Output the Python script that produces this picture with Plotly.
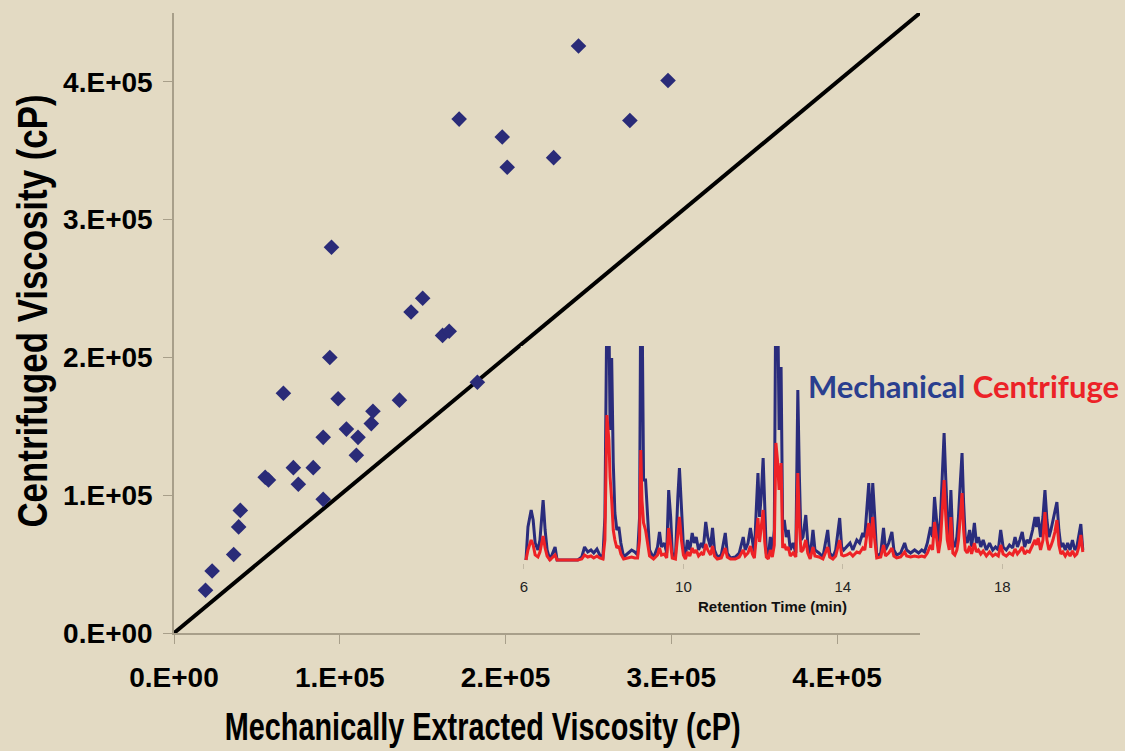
import plotly.graph_objects as go

# ---------------- main scatter data (cP) ----------------
mech_visc = [19000, 23000, 36000, 39000, 40000, 55000, 57000, 66000, 72000, 75000,
             84000, 90000, 90000, 94000, 95000, 99000, 104000, 110000, 111000, 119000,
             120000, 136000, 143000, 150000, 162000, 166000, 172000, 183000, 198000, 201000,
             229000, 244000, 275000, 298000]
cent_visc = [31000, 45000, 57000, 77000, 89000, 113000, 111000, 174000, 120000, 108000,
             120000, 142000, 97000, 200000, 280000, 170000, 148000, 129000, 142000, 152000,
             161000, 169000, 233000, 243000, 216000, 219000, 373000, 182000, 360000, 338000,
             345000, 426000, 372000, 401000]
identity_x = [0, 450000]
identity_y = [0, 450000]
tick_vals = [0, 100000, 200000, 300000, 400000]
tick_text = ["0.E+00", "1.E+05", "2.E+05", "3.E+05", "4.E+05"]

# ---------------- inset chromatogram ----------------
ret_time = [6.05, 6.10, 6.18, 6.23, 6.28, 6.35, 6.40, 6.48, 6.53, 6.58, 6.65, 6.78, 6.83, 7.35,
            7.45, 7.52, 7.60, 7.68, 7.75, 7.83, 7.90, 7.98, 8.03, 8.08, 8.13, 8.16, 8.20, 8.24,
            8.28, 8.33, 8.38, 8.43, 8.50, 8.60, 8.70, 8.78, 8.85, 8.90, 8.93, 8.96, 9.00, 9.05,
            9.10, 9.15, 9.25, 9.35, 9.40, 9.45, 9.52, 9.58, 9.63, 9.68, 9.72, 9.80, 9.86, 9.90,
            9.95, 10.00, 10.05, 10.10, 10.16, 10.22, 10.27, 10.32, 10.38, 10.45, 10.50, 10.56,
            10.61, 10.68, 10.73, 10.78, 10.85, 10.95, 11.05, 11.10, 11.18, 11.30, 11.40, 11.50,
            11.55, 11.62, 11.68, 11.73, 11.78, 11.83, 11.87, 11.91, 11.95, 12.00, 12.04, 12.08,
            12.13, 12.18, 12.23, 12.28, 12.32, 12.36, 12.40, 12.45, 12.49, 12.53, 12.58, 12.63,
            12.68, 12.75, 12.82, 12.87, 12.91, 12.95, 13.00, 13.07, 13.12, 13.18, 13.25, 13.30,
            13.40, 13.50, 13.62, 13.67, 13.75, 13.82, 13.92, 13.97, 14.02, 14.10, 14.18, 14.25,
            14.35, 14.42, 14.50, 14.55, 14.60, 14.65, 14.70, 14.75, 14.80, 14.85, 14.95, 15.02,
            15.07, 15.15, 15.23, 15.28, 15.35, 15.45, 15.55, 15.60, 15.70, 15.80, 15.90, 15.98,
            16.05, 16.12, 16.20, 16.25, 16.30, 16.35, 16.40, 16.45, 16.50, 16.54, 16.58, 16.62,
            16.67, 16.71, 16.76, 16.81, 16.86, 16.90, 16.95, 16.99, 17.03, 17.07, 17.12, 17.18,
            17.23, 17.30, 17.35, 17.40, 17.46, 17.52, 17.60, 17.68, 17.76, 17.83, 17.90, 17.96,
            18.02, 18.10, 18.18, 18.26, 18.32, 18.38, 18.44, 18.50, 18.56, 18.62, 18.68, 18.76,
            18.82, 18.86, 18.90, 18.96, 19.02, 19.07, 19.12, 19.17, 19.22, 19.27, 19.32, 19.37,
            19.42, 19.47, 19.52, 19.58, 19.64, 19.70, 19.76, 19.82, 19.87, 19.92, 19.97, 20.02]
mechanical_signal = [0, 33, 50, 40, 17, 10, 20, 60, 30, 10, 0, 13, 0, 0,
                     3, 13, 8, 10, 7, 11, 5, 3, 43, 260, 250, 130, 202, 97,
                     47, 30, 33, 17, 3, 7, 10, 8, 5, 43, 280, 270, 80, 80,
                     37, 10, 2, 13, 28, 13, 17, 7, 70, 43, 7, 3, 63, 92,
                     53, 13, 3, 20, 10, 27, 17, 23, 10, 17, 12, 38,
                     23, 13, 32, 10, 3, 5, 27, 7, 2, 3, 7, 23,
                     10, 17, 32, 17, 7, 53, 87, 43, 63, 102, 43, 7,
                     3, 23, 7, 30, 290, 280, 130, 193, 30, 40, 23, 30,
                     10, 17, 7, 170, 83, 20, 23, 45, 17, 3, 30, 10,
                     7, 3, 30, 7, 3, 10, 42, 13, 10, 13, 17, 10,
                     20, 17, 27, 23, 53, 77, 30, 77, 43, 3, 7, 32,
                     10, 17, 28, 10, 5, 7, 17, 10, 7, 10, 7, 10,
                     8, 17, 33, 23, 63, 43, 17, 43, 97, 127, 83, 43,
                     23, 70, 17, 13, 23, 43, 80, 107, 57, 23, 17, 30,
                     13, 37, 17, 23, 13, 20, 10, 17, 10, 13, 10, 30,
                     13, 10, 15, 12, 23, 13, 20, 28, 13, 20, 17, 30,
                     43, 33, 43, 23, 43, 70, 40, 23, 30, 40, 50, 58,
                     30, 13, 17, 10, 17, 10, 20, 10, 13, 27, 36, 10]
centrifuge_signal = [0, 10, 20, 15, 5, 3, 8, 24, 12, 4, 0, 5, 0, 0,
                     1, 5, 3, 4, 2, 4, 2, 1, 20, 145, 120, 83, 60, 30,
                     20, 12, 14, 6, 1, 2, 3, 2, 2, 20, 110, 60, 37, 30,
                     15, 4, 1, 5, 12, 5, 6, 2, 32, 15, 2, 1, 25, 43,
                     20, 5, 1, 8, 4, 12, 7, 10, 4, 7, 5, 16,
                     10, 5, 14, 4, 1, 2, 12, 3, 1, 1, 3, 10,
                     4, 7, 14, 6, 2, 25, 42, 18, 30, 50, 18, 3,
                     1, 10, 3, 15, 117, 100, 70, 97, 12, 16, 10, 13,
                     4, 7, 3, 87, 35, 8, 10, 20, 7, 1, 13, 4,
                     3, 1, 13, 3, 1, 4, 20, 5, 4, 5, 7, 4,
                     8, 7, 12, 10, 25, 37, 12, 43, 20, 2, 3, 15,
                     4, 7, 12, 4, 2, 3, 8, 4, 3, 4, 3, 4,
                     3, 7, 15, 10, 38, 20, 7, 20, 50, 80, 45, 20,
                     10, 43, 7, 5, 10, 20, 45, 67, 30, 10, 7, 14,
                     6, 17, 8, 10, 6, 9, 4, 8, 4, 6, 4, 15,
                     6, 4, 7, 5, 11, 6, 9, 13, 6, 9, 8, 14,
                     20, 15, 22, 10, 20, 48, 20, 10, 14, 20, 28, 40,
                     15, 6, 8, 4, 8, 4, 9, 4, 6, 13, 25, 8]
inset_tick_vals = [6, 10, 14, 18]
inset_tick_text = ["6", "10", "14", "18"]

W, H = 1125, 751
BG = "#E3DAC3"
AXIS = "#A89F8A"


def px_x(p):
    return p / W


def px_y(p):
    return 1 - p / H


fig = go.Figure()

fig.add_trace(go.Scatter(x=identity_x, y=identity_y, mode="lines",
                         line=dict(color="black", width=4), cliponaxis=False,
                         hoverinfo="skip", showlegend=False))
fig.add_trace(go.Scatter(x=mech_visc, y=cent_visc, mode="markers",
                         marker=dict(symbol="diamond", size=12, color="#2A2B78",
                                     line=dict(width=0)),
                         showlegend=False))
fig.add_trace(go.Scatter(x=ret_time, y=mechanical_signal, mode="lines",
                         line=dict(color="#2A2C7C", width=3),
                         xaxis="x2", yaxis="y2", showlegend=False))
fig.add_trace(go.Scatter(x=ret_time, y=centrifuge_signal, mode="lines",
                         line=dict(color="#EE2226", width=3),
                         xaxis="x2", yaxis="y2", showlegend=False))

bold28 = dict(size=28, family="Liberation Sans, Arial", weight="bold", color="black")

fig.update_layout(
    width=W, height=H,
    margin=dict(l=0, r=0, t=0, b=0, autoexpand=False),
    paper_bgcolor=BG, plot_bgcolor=BG,
    font=dict(family="Liberation Sans, Arial, sans-serif", color="black"),
    xaxis=dict(domain=[px_x(174), px_x(920)], range=[0, 450000], automargin=False,
               showgrid=False, zeroline=False, showline=True, linecolor=AXIS, linewidth=1.5,
               ticks="outside", ticklen=9, tickcolor=AXIS, tickwidth=1.3,
               tickvals=tick_vals, ticktext=tick_text, ticklabelstandoff=10,
               tickfont=bold28),
    yaxis=dict(domain=[px_y(633), px_y(13)], range=[0, 450000], automargin=False,
               showgrid=False, zeroline=False, showline=True, linecolor=AXIS, linewidth=1.5,
               ticks="outside", ticklen=9, tickcolor=AXIS, tickwidth=1.3,
               tickvals=tick_vals, ticktext=tick_text, ticklabelstandoff=5,
               tickfont=bold28),
    xaxis2=dict(domain=[px_x(520.8), px_x(1086)], range=[5.92, 20.1], anchor="y2",
                automargin=False,
                showgrid=False, zeroline=False, showline=False,
                ticks="outside", ticklen=5, tickcolor="#C2B9A4", tickwidth=1,
                tickvals=inset_tick_vals, ticktext=inset_tick_text, ticklabelstandoff=5,
                tickfont=dict(size=15, color="#222222")),
    yaxis2=dict(domain=[px_y(563), px_y(346)], range=[-3, 214], anchor="x2",
                automargin=False,
                showgrid=False, zeroline=False, showline=False, showticklabels=False,
                ticks=""),
)

title_font = dict(family="Liberation Sans, Arial", weight="bold", color="black")
fig.add_annotation(text="Mechanically Extracted Viscosity (cP)", x=px_x(482), y=px_y(726),
                   xref="paper", yref="paper", showarrow=False, xanchor="center", yanchor="middle",
                   font=dict(size=39, **title_font))
fig.add_annotation(text="Centrifuged Viscosity (cP)", x=px_x(32), y=px_y(311),
                   xref="paper", yref="paper", showarrow=False, textangle=-90,
                   xanchor="center", yanchor="middle",
                   font=dict(size=42, **title_font))
fig.add_annotation(text="Retention Time (min)", x=px_x(772), y=px_y(606),
                   xref="paper", yref="paper", showarrow=False, xanchor="center", yanchor="middle",
                   font=dict(size=15, family="Liberation Sans, Arial", weight="bold", color="#111111"))
fig.add_annotation(text="<span style='color:#2A3F8F'>Mechanical</span> "
                        "<span style='color:#EC2227'>Centrifuge</span>",
                   x=px_x(1121), y=px_y(386), xref="paper", yref="paper", showarrow=False,
                   xanchor="right", yanchor="middle",
                   font=dict(size=31, family="Lato, Liberation Sans", weight="bold"))

# condensed (Arial Narrow-like) look for the two axis titles, plus no page margin
post = """
document.body.style.margin = '0px';
var gd = document.getElementById('{plot_id}');
gd.querySelectorAll('.annotation-text').forEach(function (t) {
  var s = t.textContent;
  if (s.indexOf('Viscosity') >= 0) {
    t.style.transformBox = 'fill-box';
    t.style.transformOrigin = 'center';
    t.style.transform = (s.indexOf('Mechanically') >= 0) ? 'scaleX(0.74)' : 'scaleX(0.83)';
  }
});
"""

fig.write_html("out.html", post_script=post, config={"displayModeBar": False})
